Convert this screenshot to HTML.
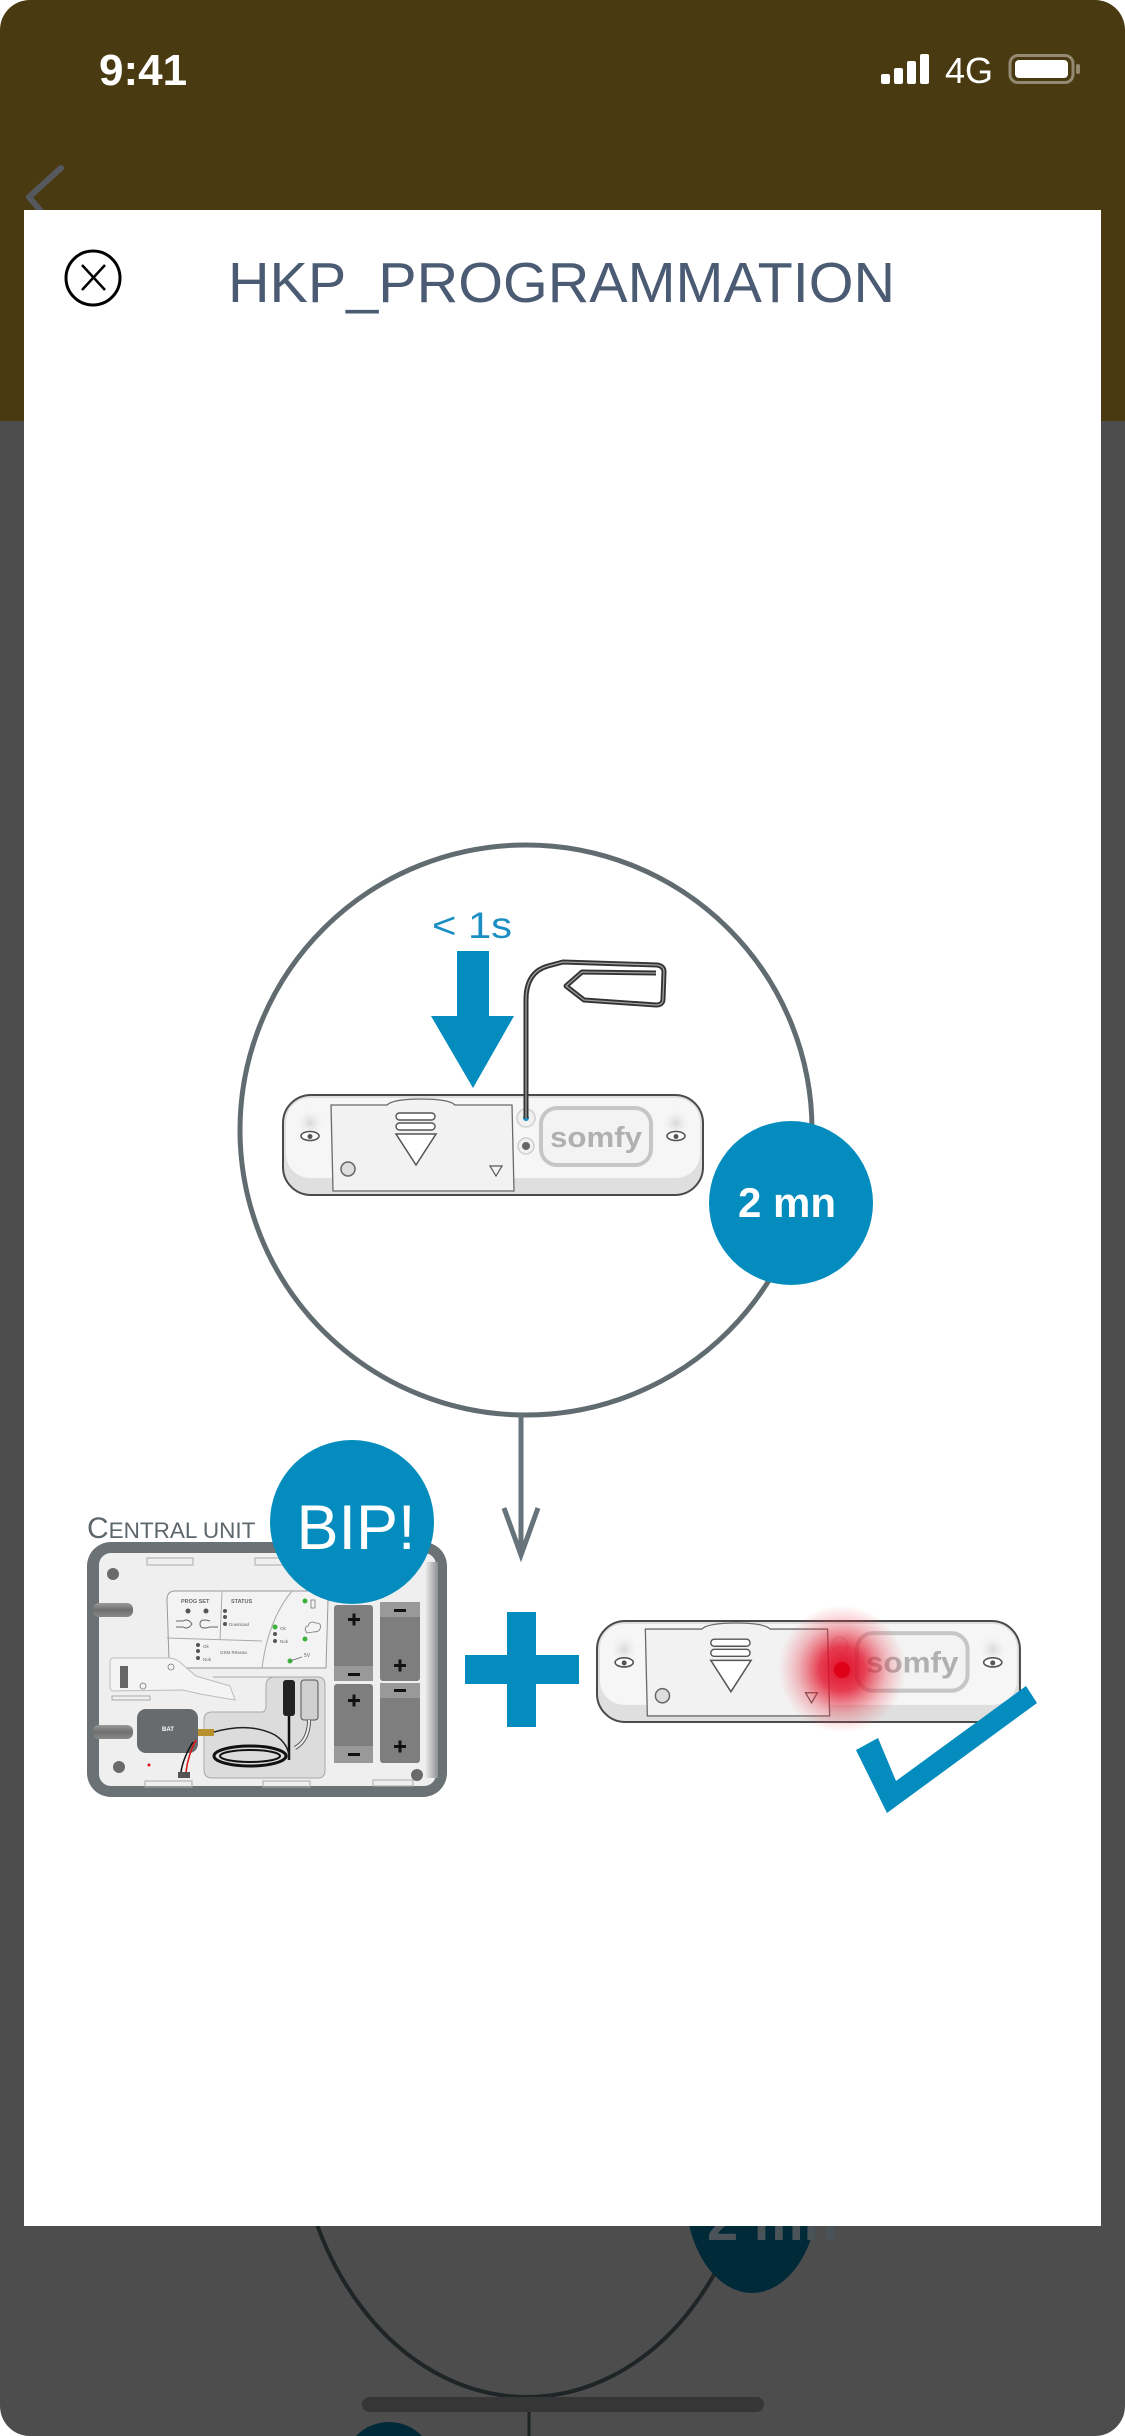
<!DOCTYPE html>
<html><head><meta charset="utf-8"><style>
html,body{margin:0;padding:0;background:#fff;}
svg{display:block;}
text{font-family:"Liberation Sans",Arial,sans-serif;}
</style></head><body>
<svg width="1125" height="2436" viewBox="0 0 1125 2436" xmlns="http://www.w3.org/2000/svg">
<defs>
<clipPath id="scr"><rect x="0" y="0" width="1125" height="2436" rx="30"/></clipPath>
<radialGradient id="glow" cx="0.5" cy="0.5" r="0.5">
<stop offset="0" stop-color="#e0001b" stop-opacity="0.95"/>
<stop offset="0.35" stop-color="#e2102a" stop-opacity="0.8"/>
<stop offset="0.7" stop-color="#e8303f" stop-opacity="0.3"/>
<stop offset="1" stop-color="#ee5060" stop-opacity="0"/>
</radialGradient>
<radialGradient id="hs" cx="0.5" cy="0.5" r="0.5">
<stop offset="0" stop-color="#d8d8d8"/>
<stop offset="1" stop-color="#f6f6f6" stop-opacity="0"/>
</radialGradient>
<linearGradient id="peg" x1="0" y1="0" x2="0" y2="1">
<stop offset="0" stop-color="#9a9a9a"/><stop offset="0.5" stop-color="#6f6f6f"/><stop offset="1" stop-color="#8a8a8a"/>
</linearGradient>
<linearGradient id="strip" x1="0" y1="0" x2="1" y2="0">
<stop offset="0" stop-color="#e8e8e8"/><stop offset="1" stop-color="#8d9194"/>
</linearGradient>
</defs>
<g clip-path="url(#scr)">
<!-- backgrounds -->
<rect x="0" y="0" width="1125" height="421" fill="#4a3a12"/>
<rect x="0" y="421" width="1125" height="2015" fill="#4d4d4d"/>
<!-- back chevron -->
<path d="M61,168 L29,197 L50,222" fill="none" stroke="#55595e" stroke-width="6" stroke-linecap="round" stroke-linejoin="round"/>
<!-- status bar -->
<text x="99" y="85" font-size="44" font-weight="bold" fill="#fff">9:41</text>
<rect x="881" y="74" width="9" height="10" rx="2" fill="#fff"/>
<rect x="894" y="68" width="9" height="16" rx="2" fill="#fff"/>
<rect x="907" y="61" width="9" height="23" rx="2" fill="#fff"/>
<rect x="920" y="54" width="9" height="30" rx="2" fill="#fff"/>
<text x="945" y="83" font-size="36" fill="#fff">4G</text>
<rect x="1010" y="55.5" width="63" height="27" rx="8" fill="none" stroke="#948a72" stroke-width="3"/>
<rect x="1015" y="60" width="53" height="18" rx="4" fill="#fff"/>
<rect x="1076" y="64" width="4" height="10" rx="2" fill="#948a72"/>

<!-- ghost background diagram -->
<ellipse cx="527" cy="2097" rx="232" ry="300" fill="none" stroke="#1f2426" stroke-width="4"/>
<ellipse cx="752" cy="2190" rx="67" ry="103" fill="#012a39"/>
<text x="707" y="2240" font-size="56" font-weight="bold" fill="#4a5358">2 mn</text>
<line x1="529" y1="2397" x2="529" y2="2436" stroke="#1f2426" stroke-width="3"/>
<circle cx="389" cy="2468" r="46" fill="#012a39"/>
<rect x="362" y="2397" width="402" height="15" rx="7.5" fill="#363636"/>

<!-- modal -->
<rect x="24" y="210" width="1077" height="2016" fill="#fff"/>
<circle cx="93" cy="278" r="27" fill="none" stroke="#000" stroke-width="3"/>
<line x1="82" y1="265" x2="105" y2="290" stroke="#000" stroke-width="2.5"/>
<line x1="105" y1="265" x2="82" y2="290" stroke="#000" stroke-width="2.5"/>
<text x="228" y="302" font-size="57" fill="#4b5b73" textLength="667" lengthAdjust="spacingAndGlyphs">HKP_PROGRAMMATION</text>

<!-- big circle -->
<ellipse cx="526" cy="1130" rx="286" ry="285" fill="none" stroke="#616c71" stroke-width="5"/>
<!-- connector down -->
<line x1="521" y1="1414" x2="521" y2="1555" stroke="#66737a" stroke-width="5"/>
<path d="M504,1508 L521,1555 L538,1508" fill="none" stroke="#66737a" stroke-width="5" stroke-linejoin="miter"/>

<!-- < 1s and arrow -->
<text x="432" y="938" font-size="37" fill="#1b8fc4" textLength="80" lengthAdjust="spacingAndGlyphs">&lt; 1s</text>
<path d="M457,951 L489,951 L489,1016 L514,1016 L473,1088 L431,1016 L457,1016 Z" fill="#038cbd"/>

<!-- top device -->
<g transform="translate(283,1095)">
 <rect x="0" y="0" width="420" height="100" rx="28" fill="#dfdfdf" stroke="#4a4a4a" stroke-width="2"/>
 <rect x="3" y="3" width="414" height="80" rx="24" fill="#f6f6f6"/>
 <circle cx="27" cy="28" r="15" fill="url(#hs)"/>
 <ellipse cx="27" cy="41" rx="9" ry="4.5" fill="#fff" stroke="#555" stroke-width="1.6"/>
 <circle cx="27" cy="41.5" r="2.5" fill="#555"/>
 <circle cx="393" cy="28" r="15" fill="url(#hs)"/>
 <ellipse cx="393" cy="41" rx="9" ry="4.5" fill="#fff" stroke="#555" stroke-width="1.6"/>
 <circle cx="393" cy="41.5" r="2.5" fill="#555"/>
 <path d="M48,10 L104,10 Q110,4 138,4 Q166,4 172,10 L229,10 L231,96 L50,96 Z" fill="#f2f2f2" stroke="#6a6a6a" stroke-width="1.3"/>
 <rect x="113" y="18" width="39" height="7" rx="3.5" fill="#fff" stroke="#555" stroke-width="1.4"/>
 <rect x="113" y="28" width="39" height="7" rx="3.5" fill="#fff" stroke="#555" stroke-width="1.4"/>
 <path d="M113,39 L153,39 L133,70 Z" fill="#fff" stroke="#555" stroke-width="1.5"/>
 <circle cx="65" cy="74" r="7" fill="#ddd" stroke="#666" stroke-width="1.5"/>
 <path d="M207,71 L219,71 L213,81 Z" fill="none" stroke="#555" stroke-width="1.2"/>
 <circle cx="243" cy="23" r="9" fill="#f0f0f0" stroke="#cfcfcf" stroke-width="1.5"/>
 <circle cx="243" cy="23" r="3" fill="#1a8abf"/>
 <circle cx="243" cy="51" r="8" fill="#f0f0f0" stroke="#cfcfcf" stroke-width="1.5"/>
 <circle cx="243" cy="51" r="4" fill="#666"/>
 <rect x="258" y="13" width="110" height="57" rx="16" fill="#f3f3f3" stroke="#c6c6c6" stroke-width="4"/>
 <text x="267" y="52" font-size="29" font-weight="bold" fill="#b0b0b0" textLength="92" lengthAdjust="spacingAndGlyphs">somfy</text>
</g>
<!-- pin -->
<path d="M526,1118 L526,1000 Q526,972 548,966 L563,962 L657,965 Q664,966 664,972 L663,999 Q663,1005 656,1005 L584,1000 L566,986 L582,972 L656,973" fill="none" stroke="#333" stroke-width="5" stroke-linejoin="round"/>
<path d="M526,1118 L526,1000 Q526,972 548,966 L563,962 L657,965 Q664,966 664,972 L663,999 Q663,1005 656,1005 L584,1000 L566,986 L582,972 L656,973" fill="none" stroke="#a0a0a0" stroke-width="1.3" stroke-linejoin="round"/>

<!-- 2 mn badge -->
<circle cx="791" cy="1203" r="82" fill="#038cbd"/>
<text x="787" y="1217" font-size="42" font-weight="bold" fill="#fff" text-anchor="middle">2 mn</text>

<!-- central unit -->
<text x="87" y="1538" fill="#5d676b"><tspan font-size="30">C</tspan><tspan font-size="22.5">ENTRAL UNIT</tspan></text>
<rect x="87" y="1542" width="360" height="255" rx="24" fill="#6b7276"/>
<rect x="99" y="1553" width="337" height="233" rx="12" fill="#efefef"/>
<rect x="426" y="1562" width="12" height="216" fill="url(#strip)"/>
<rect x="147" y="1558" width="46" height="7" fill="none" stroke="#aaa" stroke-width="1"/>
<rect x="255" y="1558" width="42" height="7" fill="none" stroke="#aaa" stroke-width="1"/>
<rect x="145" y="1781" width="47" height="6" fill="none" stroke="#aaa" stroke-width="1"/>
<rect x="263" y="1781" width="47" height="6" fill="none" stroke="#aaa" stroke-width="1"/>
<rect x="373" y="1780" width="40" height="6" fill="none" stroke="#aaa" stroke-width="1"/>
<rect x="93" y="1603" width="40" height="14" rx="6" fill="url(#peg)"/>
<rect x="93" y="1725" width="40" height="14" rx="6" fill="url(#peg)"/>
<circle cx="113" cy="1574" r="6" fill="#6a6a6a"/>
<circle cx="119" cy="1767" r="6" fill="#6a6a6a"/>
<circle cx="417" cy="1775" r="6" fill="#6a6a6a"/>
<circle cx="149" cy="1765" r="1.5" fill="#d11"/>
<!-- label panel -->
<path d="M175,1591 L325,1591 Q329,1591 328,1600 L326,1668 L180,1668 Q170,1668 169,1660 L167,1600 Q167,1591 175,1591 Z" fill="#f3f3f3" stroke="#9a9a9a" stroke-width="1"/>
<path d="M222,1591 L220,1640 M167,1638 L262,1641 M292,1591 Q268,1620 262,1668" fill="none" stroke="#aaa" stroke-width="1"/>
<text x="181" y="1603" font-size="5.5" font-weight="bold" fill="#666">PROG  SET</text>
<text x="231" y="1603" font-size="5.5" font-weight="bold" fill="#666">STATUS</text>
<circle cx="188" cy="1611" r="2.5" fill="#555"/><circle cx="206" cy="1611" r="2.5" fill="#555"/>
<circle cx="225" cy="1611" r="2" fill="#555"/><circle cx="225" cy="1617" r="2" fill="#555"/><circle cx="225" cy="1624" r="2" fill="#555"/>
<text x="229" y="1626" font-size="4.5" fill="#666">Download</text>
<path d="M176,1621 L183,1621 Q188,1618 192,1624 Q188,1630 183,1627 L176,1627" fill="none" stroke="#666" stroke-width="1"/>
<path d="M210,1621 Q200,1618 200,1624 Q200,1630 210,1627 L218,1627" fill="none" stroke="#666" stroke-width="1"/>
<circle cx="305" cy="1601" r="2.5" fill="#3bb33b"/><rect x="311" y="1600" width="4" height="8" fill="none" stroke="#777" stroke-width="0.8"/>
<circle cx="275" cy="1627" r="2.5" fill="#3bb33b"/><circle cx="275" cy="1634" r="2" fill="#555"/><circle cx="275" cy="1641" r="2" fill="#555"/>
<text x="280" y="1630" font-size="4.5" fill="#666">Ok</text><text x="280" y="1643" font-size="4.5" fill="#666">Nok</text>
<circle cx="305" cy="1639" r="2.5" fill="#3bb33b"/>
<path d="M307,1633 Q303,1627 308,1626 Q310,1620 316,1623 Q322,1623 320,1629 Q319,1632 313,1632 Z" fill="none" stroke="#777" stroke-width="0.8"/>
<circle cx="290" cy="1661" r="2.5" fill="#3bb33b"/><line x1="290" y1="1661" x2="302" y2="1657" stroke="#666" stroke-width="0.8"/>
<text x="304" y="1657" font-size="5" fill="#666">5V</text>
<circle cx="198" cy="1645" r="2" fill="#555"/><circle cx="198" cy="1651" r="2" fill="#555"/><circle cx="198" cy="1658" r="2" fill="#555"/>
<text x="203" y="1648" font-size="4.5" fill="#666">Ok</text><text x="203" y="1661" font-size="4.5" fill="#666">Nok</text>
<text x="220" y="1654" font-size="4.5" fill="#666">GSM Réseau</text>
<!-- left module -->
<path d="M114,1658 L168,1658 Q176,1658 182,1664 L196,1676 L230,1686 L235,1700 L200,1694 L183,1690 L114,1691 Q110,1691 110,1686 L110,1662 Q110,1658 114,1658 Z" fill="#f4f4f4" stroke="#bcbcbc" stroke-width="1"/>
<rect x="120" y="1666" width="8" height="22" fill="#666"/>
<circle cx="171" cy="1667" r="3" fill="none" stroke="#777" stroke-width="0.8"/>
<circle cx="143" cy="1686" r="3" fill="none" stroke="#777" stroke-width="0.8"/>
<rect x="112" y="1696" width="38" height="4" fill="none" stroke="#999" stroke-width="0.8"/>
<!-- cable area -->
<path d="M213,1677 L318,1677 Q325,1677 325,1685 L325,1770 Q325,1778 318,1778 L212,1778 Q204,1778 204,1770 L204,1720 Q204,1712 212,1712 L262,1712 Q266,1712 266,1705 L266,1686 Q266,1677 275,1677 Z" fill="#dcdcdc" stroke="#a8a8a8" stroke-width="1"/>
<rect x="283" y="1680" width="12" height="36" rx="3" fill="#222"/>
<rect x="301" y="1680" width="17" height="40" rx="3" fill="#d0d0d0" stroke="#555" stroke-width="1"/>
<path d="M309,1720 Q309,1740 295,1748" fill="none" stroke="#555" stroke-width="4"/>
<path d="M309,1720 Q309,1740 295,1748" fill="none" stroke="#eee" stroke-width="2"/>
<path d="M289,1716 L289,1760" fill="none" stroke="#111" stroke-width="2.5"/>
<ellipse cx="250" cy="1756" rx="36" ry="10" fill="none" stroke="#111" stroke-width="3"/>
<ellipse cx="250" cy="1756" rx="30" ry="6" fill="none" stroke="#111" stroke-width="2"/>
<rect x="137" y="1709" width="61" height="44" rx="9" fill="#676b6e"/>
<text x="162" y="1731" font-size="6" font-weight="bold" fill="#fff">BAT</text>
<rect x="198" y="1729" width="16" height="7" fill="#b8912e"/>
<path d="M214,1732 Q250,1722 275,1735 Q290,1745 289,1760" fill="none" stroke="#222" stroke-width="1.5"/>
<path d="M196,1740 Q188,1755 186,1772" fill="none" stroke="#d11" stroke-width="1.5"/>
<path d="M193,1742 Q183,1758 181,1772" fill="none" stroke="#111" stroke-width="1.5"/>
<rect x="178" y="1772" width="12" height="6" fill="#555"/>
<!-- batteries -->
<rect x="334" y="1605" width="39" height="76" rx="3" fill="#7e7e7e"/>
<rect x="334" y="1666" width="39" height="15" fill="#999"/>
<rect x="334" y="1684" width="39" height="79" rx="3" fill="#7e7e7e"/>
<rect x="334" y="1746" width="39" height="17" fill="#999"/>
<rect x="380" y="1602" width="40" height="79" rx="3" fill="#7e7e7e"/>
<rect x="380" y="1602" width="40" height="15" fill="#999"/>
<rect x="380" y="1683" width="40" height="80" rx="3" fill="#7e7e7e"/>
<rect x="380" y="1683" width="40" height="15" fill="#999"/>
<g fill="#111">
<rect x="348" y="1618" width="12" height="3"/><rect x="352.5" y="1613.5" width="3" height="12"/>
<rect x="348" y="1673" width="12" height="3"/>
<rect x="348" y="1699" width="12" height="3"/><rect x="352.5" y="1694.5" width="3" height="12"/>
<rect x="348" y="1753" width="12" height="3"/>
<rect x="394" y="1609" width="12" height="3"/>
<rect x="394" y="1664" width="12" height="3"/><rect x="398.5" y="1659.5" width="3" height="12"/>
<rect x="394" y="1689" width="12" height="3"/>
<rect x="394" y="1745" width="12" height="3"/><rect x="398.5" y="1740.5" width="3" height="12"/>
</g>
<!-- BIP -->
<circle cx="352" cy="1522" r="82" fill="#038cbd"/>
<text x="356" y="1549" font-size="63" fill="#fff" text-anchor="middle">BIP!</text>

<!-- plus -->
<rect x="465" y="1655" width="114" height="29" fill="#038cbd"/>
<rect x="507" y="1612" width="29" height="115" fill="#038cbd"/>

<!-- bottom device -->
<g transform="translate(597,1621) scale(1.007,1.01)">
 <rect x="0" y="0" width="420" height="100" rx="28" fill="#dfdfdf" stroke="#4a4a4a" stroke-width="2"/>
 <rect x="3" y="3" width="414" height="80" rx="24" fill="#f6f6f6"/>
 <circle cx="27" cy="28" r="15" fill="url(#hs)"/>
 <ellipse cx="27" cy="41" rx="9" ry="4.5" fill="#fff" stroke="#555" stroke-width="1.6"/>
 <circle cx="27" cy="41.5" r="2.5" fill="#555"/>
 <circle cx="393" cy="28" r="15" fill="url(#hs)"/>
 <ellipse cx="393" cy="41" rx="9" ry="4.5" fill="#fff" stroke="#555" stroke-width="1.6"/>
 <circle cx="393" cy="41.5" r="2.5" fill="#555"/>
 <path d="M48,8 L104,8 Q110,2 138,2 Q166,2 172,8 L229,8 L231,94 L50,94 Z" fill="#f2f2f2" stroke="#6a6a6a" stroke-width="1.3"/>
 <rect x="113" y="18" width="39" height="7" rx="3.5" fill="#fff" stroke="#555" stroke-width="1.4"/>
 <rect x="113" y="28" width="39" height="7" rx="3.5" fill="#fff" stroke="#555" stroke-width="1.4"/>
 <path d="M113,39 L153,39 L133,70 Z" fill="#fff" stroke="#555" stroke-width="1.5"/>
 <circle cx="65" cy="74" r="7" fill="#ddd" stroke="#666" stroke-width="1.5"/>
 <path d="M207,71 L219,71 L213,81 Z" fill="none" stroke="#555" stroke-width="1.2"/>
 <circle cx="241" cy="24" r="8" fill="#f0f0f0" stroke="#d8d8d8" stroke-width="1.2"/>
 <rect x="258" y="12" width="110" height="57" rx="16" fill="#f3f3f3" stroke="#c6c6c6" stroke-width="4"/>
 <text x="267" y="51" font-size="29" font-weight="bold" fill="#b0b0b0" textLength="92" lengthAdjust="spacingAndGlyphs">somfy</text>
</g>
<circle cx="842" cy="1669" r="64" fill="url(#glow)"/>
<circle cx="842" cy="1670" r="8" fill="#dd0017"/>

<!-- checkmark -->
<path d="M856,1750 L878,1738 L896,1781 L1026,1686 L1037,1703 L887,1813 Z" fill="#038cbd"/>
</g>
</svg>
</body></html>
